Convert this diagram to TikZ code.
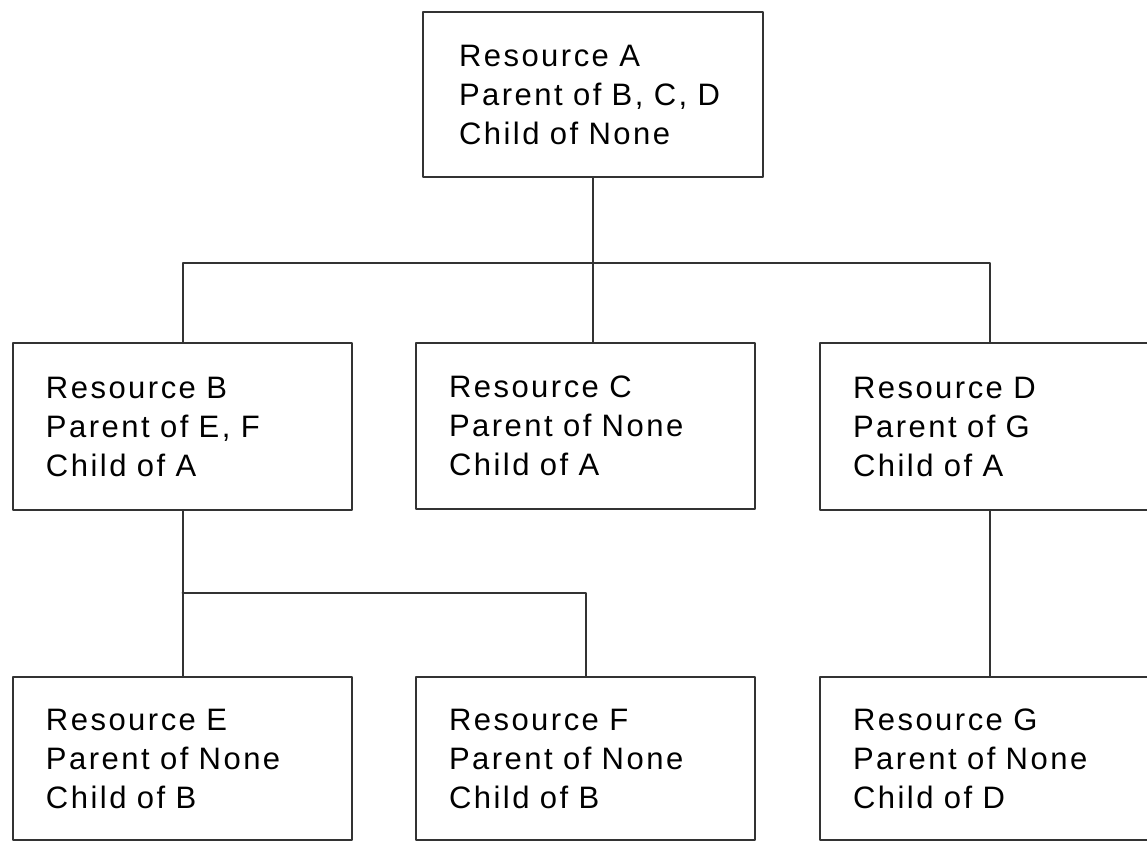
\documentclass[tikz,border=0pt]{standalone}
\usepackage{fontspec}
\setmainfont{Liberation Sans}[LetterSpace=8]
\usepackage{pgf,tikz}
\usetikzlibrary{arrows}

\tikzset{res/.style={draw=black!80, rectangle, minimum width=169.5pt, text width=136.5pt,
  inner xsep=16.5pt, inner ysep=0pt, align=left, font=\fontsize{15.5}{19.5}\selectfont},
  link/.style={color=black!80}}

\begin{document}
\begin{tikzpicture}[line cap=round,line join=round,line width=1pt,x=0.5pt,y=-0.5pt]
\clip (0,0) rectangle (1147,842);
%ylin laatikko
\node[res,minimum width=170pt,minimum height=82.5pt,text width=134pt,inner xsep=18pt] (A) at (593,94.5)
  {Resource A\\Parent of B, C, D\\Child of None};
%muut laatikot
\foreach \n/\x/\y/\h/\p/\c in {B/182.5/426.5/83.5/{E, F}/A, C/585.5/426/83/None/A,
  D/989.5/426.5/83.5/G/A, E/182.5/758.5/81.5/None/B, F/585.5/758.5/81.5/None/B,
  G/989.5/758.5/81.5/None/D}
{
\node[res,minimum height=\h pt] (\n) at (\x,\y) {Resource \n\\Parent of \p\\Child of \c};
}

%viivat
\coordinate (bus1) at (593,263);
\coordinate (bus2) at (385,593);
\draw[link] (A.south) -- (A.south |- C.north);
\draw[link] (B.north) |- (bus1) -| (D.north);
\draw[link] (B.south) -- (E.north);
\draw[link] (B.south |- bus2) -| (F.north);
\draw[link] (D.south) -- (G.north);
\end{tikzpicture}
\end{document}
